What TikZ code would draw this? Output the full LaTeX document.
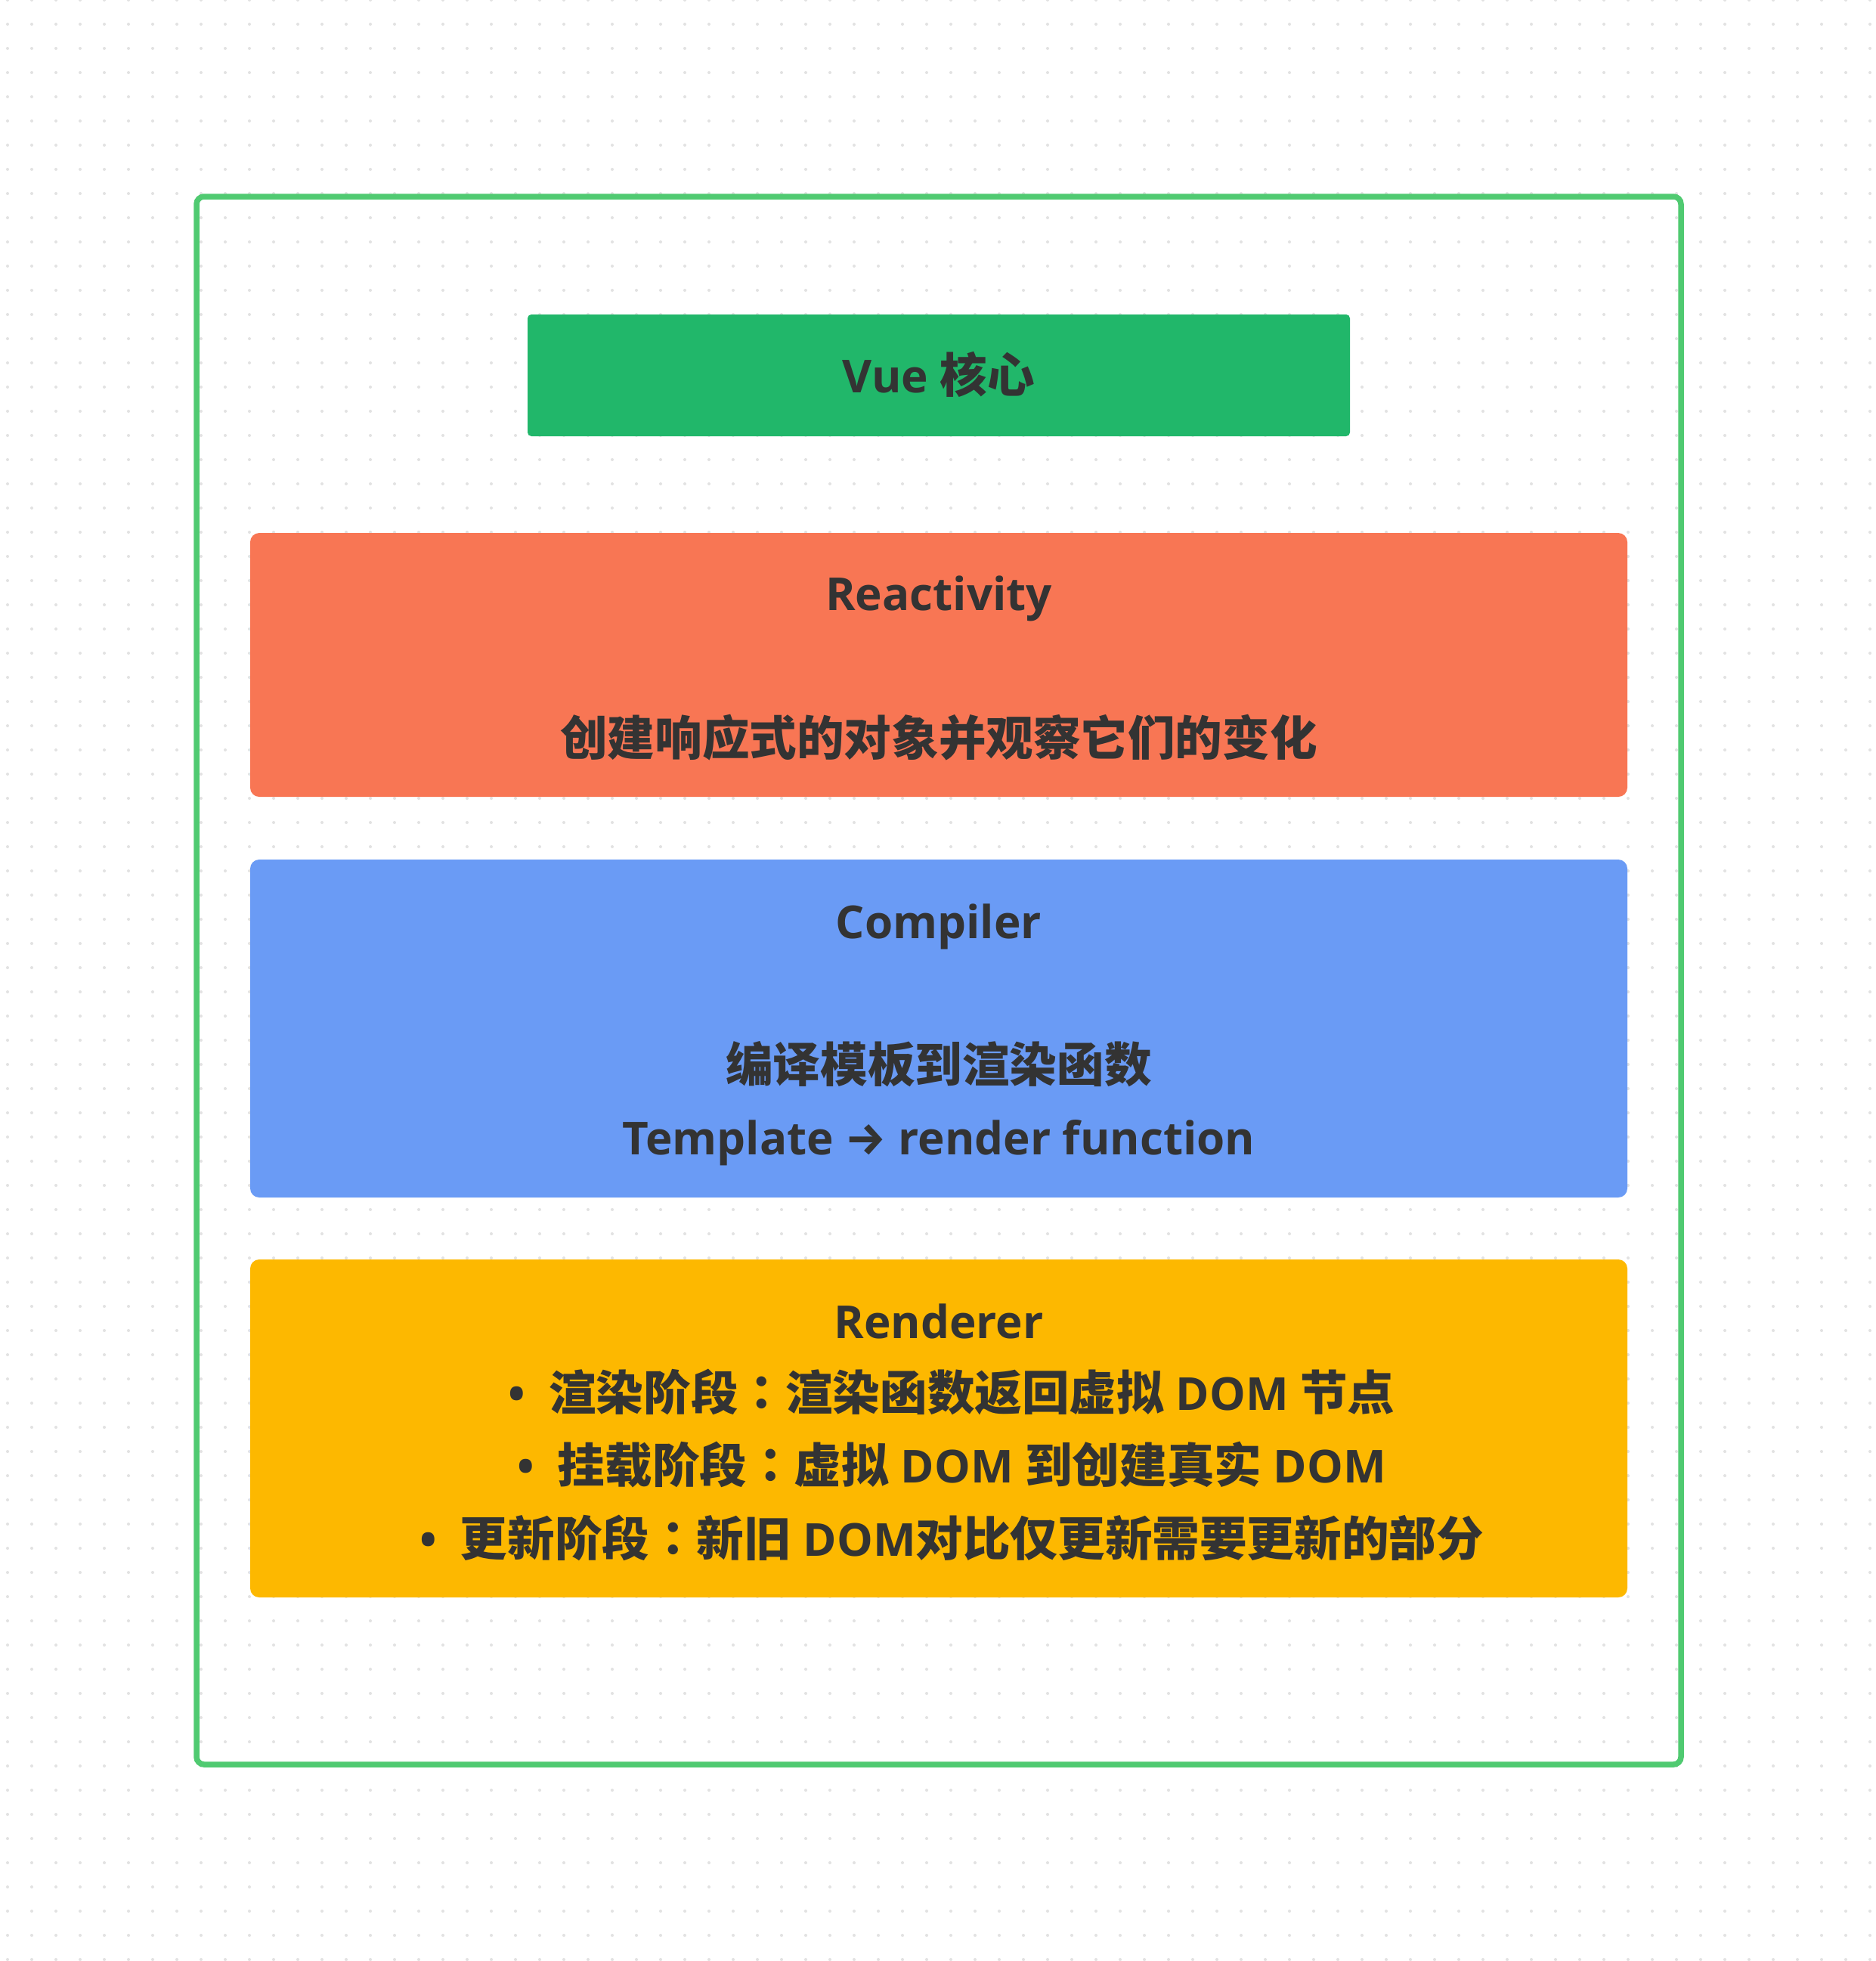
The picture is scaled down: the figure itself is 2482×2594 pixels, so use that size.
\documentclass[tikz,border=0pt]{standalone}
\usepackage{fontspec}
\newfontfamily\cjkf{Noto Sans CJK SC}[Scale=1.01]
\newfontfamily\cjkj{Noto Sans CJK JP}[Scale=1.01]
\newfontfamily\latf{Open Sans}[Scale=0.97]
\newfontfamily\arrf{Fira Sans}[Scale=0.97]
\newcommand\C[1]{{\cjkf\bfseries #1}}
\newcommand\colonj{{\cjkj\bfseries ：}}
\definecolor{framegreen}{RGB}{80,202,113}
\definecolor{vuegreen}{RGB}{33,183,106}
\definecolor{reactorange}{RGB}{248,118,84}
\definecolor{compblue}{RGB}{106,155,245}
\definecolor{rendyellow}{RGB}{253,184,0}
\definecolor{ink}{RGB}{51,51,51}
\definecolor{dotgray}{RGB}{226,226,226}
\tikzset{
  panel/.style={fill=#1, draw=none, rounded corners=12*0.3mm, inner sep=0pt},
  label/.style={inner sep=0pt, anchor=base, text=ink, font=\latf\bfseries\fontsize{52.9pt}{60pt}\selectfont},
}
\begin{document}
\begin{tikzpicture}[x=0.3mm,y=-0.3mm]
\useasboundingbox (0,0) rectangle (2482,2594);
\fill[white] (0,0) rectangle (2482,2594);
% dot grid
\foreach \i in {0,...,77}{
  \foreach \j in {0,...,81}{
    \fill[dotgray] ({10+32*\i},{32*\j}) circle (2);
  }
}
% outer frame
\node[draw=framegreen, line width=7.5*0.3mm, rounded corners=10*0.3mm, minimum width=1964*0.3mm, minimum height=2074*0.3mm, inner sep=0pt] (frame) at (1242,1297) {};
% boxes
\node[panel=vuegreen, rounded corners=5*0.3mm, minimum width=1088*0.3mm, minimum height=161*0.3mm] (vue) at (1242,496.5) {};
\node[panel=reactorange, minimum width=1822*0.3mm, minimum height=349*0.3mm] (react) at (1242,879.5) {};
\node[panel=compblue, minimum width=1822*0.3mm, minimum height=447*0.3mm] (comp) at (1242,1360.5) {};
\node[panel=rendyellow, minimum width=1822*0.3mm, minimum height=447*0.3mm] (rend) at (1242,1889.5) {};
% texts
\node[label] (vuet) at (1242,519) {Vue \C{核心}};
\node[label] (reactt) at (1242,807) {Reactivity};
\node[label] (reactd) at (1242,999) {\C{创建响应式的对象并观察它们的变化}};
\node[label] (compt) at (1242,1241) {Compiler};
\node[label] (compd) at (1242,1431) {\C{编译模板到渲染函数}};
\node[label] (compe) at (1242,1527) {Template {\arrf\bfseries →} render function};
\node[label] (rendt) at (1242,1770) {Renderer};
\node[label] (rend1) at (1259,1865) {•\ \ \C{渲染阶段}\colonj\C{渲染函数返回虚拟} DOM \C{节点}};
\node[label] (rend2) at (1259,1961) {•\ \ \C{挂载阶段}\colonj\C{虚拟} DOM \C{到创建真实} DOM};
\node[label] (rend3) at (1259,2058) {•\ \ \C{更新阶段}\colonj\C{新旧} DOM\C{对比仅更新需要更新的部分}};
\end{tikzpicture}
\end{document}
